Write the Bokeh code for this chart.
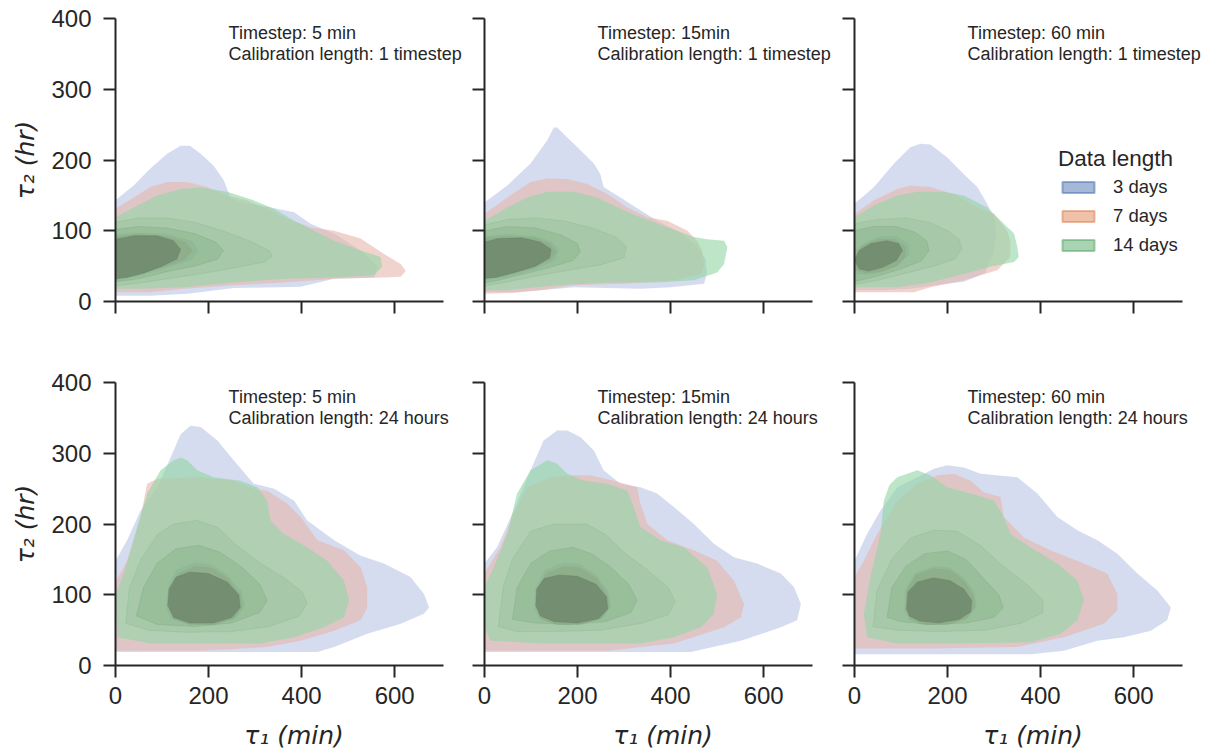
from bokeh.plotting import figure
from bokeh.layouts import gridplot
from bokeh.models import ColumnDataSource, Label, Legend, LegendItem
from bokeh.embed import file_html
from bokeh.resources import INLINE

# ---------------------------------------------------------------------------
# Data: KDE density contours of (tau1 [min], tau2 [hr]) per data length.
# Each list holds contour polygons, outermost level first, as (tau1, tau2).
# ---------------------------------------------------------------------------
SERIES = ["3 days", "7 days", "14 days"]
TIMESTEPS = ["5 min", "15min", "60 min"]
CALIBRATIONS = ["1 timestep", "24 hours"]
X_TICKS = [0, 200, 400, 600]
Y_TICKS = [0, 100, 200, 300, 400]

# calibration length: 1 timestep, timestep 5 min
c1_t5_d3 = [
    [(0, 8), (0, 143), (39, 164), (75, 188), (111, 209), (140, 220), (160, 220), (183, 209), (211, 192),
     (233, 171), (247, 147), (269, 140), (326, 134), (384, 126), (419, 110), (470, 96), (527, 72),
     (563, 49), (556, 34), (470, 32), (398, 21), (254, 19), (154, 11), (75, 8)],
    [(0, 30), (0, 95), (50, 97), (110, 95), (165, 85), (178, 72), (160, 58), (110, 48), (50, 36)],
]
c1_t5_d7 = [
    [(0, 13), (0, 131), (39, 147), (75, 162), (111, 169), (154, 169), (197, 162), (240, 150), (283, 143),
     (326, 131), (369, 117), (419, 105), (470, 100), (527, 89), (577, 67), (613, 53), (624, 43), (613, 35),
     (577, 34), (470, 32), (362, 27), (254, 23), (147, 18), (75, 13)],
    [(0, 32), (0, 92), (50, 95), (110, 92), (150, 84), (165, 72), (150, 60), (100, 48), (45, 38)],
]
c1_t5_d14 = [
    [(0, 18), (0, 119), (39, 133), (90, 150), (140, 159), (183, 161), (240, 155), (297, 143), (341, 131),
     (384, 114), (427, 100), (470, 86), (527, 72), (570, 63), (573, 49), (556, 37), (470, 34), (362, 32),
     (254, 27), (147, 20), (60, 18)],
    [(0, 22), (0, 112), (50, 118), (110, 118), (170, 112), (230, 100), (290, 85), (330, 72), (337, 64),
     (320, 56), (260, 48), (190, 40), (120, 33), (60, 27)],
    [(0, 28), (0, 102), (50, 106), (110, 104), (170, 96), (215, 84), (232, 72), (220, 60), (170, 50),
     (110, 42), (50, 32)],
    [(0, 32), (0, 88), (40, 93), (90, 93), (125, 86), (140, 74), (132, 60), (100, 50), (60, 40), (25, 34)],
]

# calibration length: 1 timestep, timestep 15 min
c1_t15_d3 = [
    [(0, 13), (0, 140), (49, 164), (99, 195), (135, 228), (149, 246), (156, 246), (192, 223), (235, 195),
     (249, 180), (256, 162), (292, 147), (335, 129), (371, 114), (420, 98), (455, 80), (475, 60), (478, 40),
     (472, 25), (400, 20), (335, 18), (192, 20), (120, 16), (60, 13)],
    [(0, 30), (0, 92), (50, 95), (110, 92), (145, 84), (160, 72), (150, 58), (110, 46), (50, 35)],
]
c1_t15_d7 = [
    [(0, 11), (0, 124), (49, 147), (99, 169), (135, 174), (178, 173), (221, 166), (264, 152), (307, 133),
     (350, 119), (393, 114), (436, 100), (457, 86), (468, 72), (472, 53), (465, 39), (407, 30), (300, 25),
     (192, 23), (120, 16), (60, 12)],
    [(0, 32), (0, 90), (50, 92), (110, 90), (140, 82), (155, 70), (140, 58), (100, 47), (45, 37)],
]
c1_t15_d14 = [
    [(0, 16), (0, 114), (49, 133), (92, 147), (135, 155), (192, 155), (242, 147), (292, 131), (335, 119),
     (393, 105), (450, 91), (479, 88), (515, 86), (522, 77), (515, 53), (500, 41), (450, 30), (371, 27),
     (264, 27), (156, 23), (49, 16)],
    [(0, 22), (0, 108), (50, 116), (110, 118), (170, 114), (230, 104), (280, 92), (305, 78), (300, 62),
     (250, 52), (180, 44), (110, 36), (50, 28)],
    [(0, 26), (0, 100), (50, 106), (110, 104), (165, 94), (200, 82), (206, 70), (190, 58), (140, 48),
     (80, 38), (30, 30)],
    [(0, 33), (0, 84), (30, 89), (80, 90), (120, 84), (143, 74), (140, 62), (110, 50), (60, 40), (25, 34)],
]

# calibration length: 1 timestep, timestep 60 min
c1_t60_d3 = [
    [(0, 16), (0, 138), (42, 162), (85, 195), (120, 218), (142, 223), (163, 222), (199, 204), (235, 180),
     (264, 162), (285, 138), (300, 119), (305, 96), (298, 67), (280, 40), (235, 28), (199, 25), (120, 18),
     (60, 16)],
    [(0, 40), (0, 70), (20, 82), (55, 92), (90, 92), (115, 82), (118, 68), (95, 52), (60, 42), (25, 38)],
]
c1_t60_d7 = [
    [(0, 13), (0, 124), (42, 143), (92, 159), (120, 164), (163, 162), (221, 150), (264, 133), (300, 124),
     (328, 100), (335, 86), (335, 63), (307, 44), (235, 30), (163, 20), (128, 13), (60, 13)],
    [(5, 44), (0, 62), (15, 78), (50, 88), (85, 88), (108, 78), (110, 64), (90, 50), (55, 42), (25, 40)],
]
c1_t60_d14 = [
    [(0, 20), (0, 119), (42, 136), (92, 150), (135, 155), (192, 155), (235, 150), (285, 133), (321, 110),
     (343, 96), (350, 77), (353, 63), (343, 56), (292, 49), (235, 39), (163, 27), (92, 20)],
    [(0, 24), (0, 110), (50, 116), (110, 118), (160, 112), (200, 100), (225, 88), (231, 74), (215, 60),
     (170, 50), (110, 40), (50, 30)],
    [(0, 28), (0, 100), (40, 106), (90, 106), (130, 98), (155, 86), (160, 72), (145, 58), (100, 46), (50, 36)],
    [(10, 46), (0, 58), (10, 72), (35, 82), (70, 86), (95, 82), (103, 72), (90, 58), (60, 48), (30, 43)],
]

# calibration length: 24 hours, timestep 5 min
c24_t5_d3 = [
    [(0, 19), (0, 148), (25, 177), (54, 219), (90, 252), (125, 304), (140, 327), (161, 339), (183, 337),
     (219, 318), (254, 290), (297, 257), (341, 250), (384, 233), (412, 205), (470, 177), (527, 155),
     (577, 144), (634, 125), (663, 101), (674, 82), (663, 73), (613, 59), (541, 45), (470, 26), (434, 19),
     (183, 19)],
    [(110, 80), (113, 110), (130, 135), (170, 145), (205, 143), (240, 128), (270, 105), (278, 85),
     (260, 68), (215, 58), (160, 58), (120, 66)],
]
c24_t5_d7 = [
    [(0, 21), (0, 118), (25, 148), (54, 210), (68, 257), (90, 264), (183, 266), (254, 261), (297, 250),
     (326, 247), (369, 229), (398, 210), (434, 177), (491, 163), (527, 139), (541, 111), (541, 82),
     (527, 64), (470, 49), (398, 35), (326, 26), (183, 21)],
    [(115, 82), (118, 108), (135, 130), (170, 140), (205, 138), (240, 124), (268, 100), (272, 82),
     (255, 66), (210, 58), (160, 58), (125, 66)],
]
c24_t5_d14 = [
    [(4, 40), (0, 100), (18, 130), (47, 196), (68, 243), (97, 276), (125, 290), (140, 294), (154, 290),
     (176, 276), (211, 266), (269, 261), (305, 252), (326, 233), (333, 205), (362, 186), (412, 167),
     (455, 148), (491, 120), (502, 92), (491, 68), (448, 54), (384, 40), (312, 31), (183, 31), (75, 31)],
    [(22, 60), (30, 110), (55, 150), (90, 185), (125, 200), (175, 205), (220, 195), (260, 170), (310, 145),
     (360, 125), (400, 105), (412, 88), (395, 70), (330, 55), (250, 48), (150, 47), (70, 50)],
    [(45, 70), (60, 110), (90, 145), (130, 165), (180, 170), (225, 160), (270, 140), (310, 115), (326, 92),
     (310, 75), (250, 60), (170, 55), (90, 58)],
    [(112, 85), (115, 108), (130, 125), (160, 132), (200, 130), (240, 118), (265, 100), (268, 82),
     (250, 68), (210, 60), (160, 60), (125, 68)],
]

# calibration length: 24 hours, timestep 15 min
c24_t15_d3 = [
    [(0, 19), (0, 144), (27, 167), (63, 219), (99, 276), (127, 318), (156, 332), (178, 332), (206, 323),
     (235, 304), (256, 276), (292, 257), (335, 252), (371, 243), (407, 224), (450, 200), (493, 172),
     (536, 153), (586, 144), (637, 130), (665, 111), (680, 87), (672, 64), (637, 54), (551, 35), (443, 19),
     (192, 19)],
    [(108, 80), (110, 110), (130, 135), (170, 145), (205, 143), (240, 128), (265, 105), (272, 85),
     (255, 68), (210, 58), (155, 58), (118, 66)],
]
c24_t15_d7 = [
    [(0, 21), (0, 130), (34, 167), (63, 214), (92, 252), (142, 266), (192, 269), (228, 269), (278, 261),
     (328, 252), (335, 229), (350, 200), (393, 177), (450, 163), (500, 148), (536, 120), (558, 87),
     (551, 68), (515, 54), (407, 31), (264, 21)],
    [(112, 82), (114, 108), (132, 130), (170, 140), (205, 138), (240, 124), (264, 100), (268, 82),
     (250, 66), (205, 58), (155, 58), (122, 66)],
]
c24_t15_d14 = [
    [(0, 54), (0, 111), (20, 139), (49, 186), (70, 243), (99, 276), (135, 290), (156, 285), (178, 271),
     (214, 261), (264, 257), (307, 247), (321, 224), (335, 196), (378, 177), (428, 167), (479, 139),
     (500, 101), (493, 73), (465, 54), (407, 40), (335, 31), (120, 31), (13, 35)],
    [(30, 55), (40, 110), (60, 150), (100, 190), (150, 200), (220, 200), (260, 185), (300, 160), (350, 135),
     (395, 110), (410, 90), (395, 72), (340, 60), (250, 50), (150, 48), (70, 48)],
    [(60, 65), (70, 110), (100, 145), (140, 162), (190, 167), (230, 158), (270, 140), (310, 115), (328, 92),
     (315, 75), (260, 62), (180, 58), (110, 60)],
    [(110, 85), (112, 108), (128, 123), (160, 128), (200, 126), (240, 115), (262, 97), (265, 80),
     (245, 66), (200, 60), (150, 62), (120, 70)],
]

# calibration length: 24 hours, timestep 60 min
c24_t60_d3 = [
    [(0, 16), (0, 148), (27, 186), (56, 219), (92, 252), (135, 266), (171, 278), (199, 283), (235, 280),
     (271, 271), (350, 266), (393, 243), (436, 210), (479, 191), (522, 177), (565, 158), (608, 130),
     (651, 106), (680, 82), (672, 64), (637, 49), (579, 40), (522, 35), (450, 21), (379, 16), (163, 16)],
    [(108, 78), (110, 108), (130, 130), (170, 140), (205, 138), (235, 124), (258, 104), (262, 84),
     (245, 68), (200, 58), (150, 58), (118, 64)],
]
c24_t60_d7 = [
    [(0, 24), (0, 125), (20, 148), (49, 186), (92, 233), (135, 257), (178, 269), (214, 271), (250, 261),
     (278, 245), (314, 238), (321, 210), (364, 181), (421, 163), (493, 144), (543, 130), (565, 101),
     (565, 78), (536, 59), (450, 40), (350, 26), (163, 24)],
    [(110, 80), (112, 106), (132, 128), (170, 137), (205, 135), (235, 120), (255, 100), (258, 82),
     (240, 66), (200, 58), (150, 58), (120, 66)],
]
c24_t60_d14 = [
    [(27, 40), (20, 73), (34, 125), (56, 186), (63, 233), (75, 255), (92, 266), (135, 276), (163, 269),
     (199, 252), (250, 243), (300, 233), (321, 210), (335, 186), (378, 167), (436, 144), (479, 120),
     (493, 92), (479, 64), (443, 45), (379, 33), (235, 31), (92, 31)],
    [(40, 55), (48, 105), (80, 150), (120, 180), (170, 191), (220, 190), (270, 170), (320, 140), (370, 115),
     (405, 92), (405, 75), (360, 60), (280, 50), (180, 48), (90, 50)],
    [(70, 68), (80, 110), (110, 140), (150, 158), (200, 162), (240, 150), (275, 125), (310, 100), (320, 82),
     (300, 68), (240, 60), (160, 58), (100, 62)],
    [(112, 80), (115, 104), (135, 118), (170, 124), (205, 120), (235, 108), (252, 92), (250, 76),
     (225, 65), (180, 60), (140, 63), (118, 70)],
]

PANELS = [
    [(c1_t5_d3, c1_t5_d7, c1_t5_d14), (c1_t15_d3, c1_t15_d7, c1_t15_d14), (c1_t60_d3, c1_t60_d7, c1_t60_d14)],
    [(c24_t5_d3, c24_t5_d7, c24_t5_d14), (c24_t15_d3, c24_t15_d7, c24_t15_d14),
     (c24_t60_d3, c24_t60_d7, c24_t60_d14)],
]

# ---------------------------------------------------------------------------
# Styling
# ---------------------------------------------------------------------------
INK = "#262626"
TICK_FONT = "Liberation Sans"
MATH_FONT = "DejaVu Sans"
PALETTE = ["#4c72b0", "#dd8452", "#55a868"]

# fill colour / alpha per contour level (outer -> core) for each series
LEVEL_STYLES = [
    [("#abb9df", 0.5), ("#3a5a9a", 0.45)],
    [("#e7b6ab", 0.6), ("#a05a50", 0.45)],
    [("#91d5a3", 0.6), ("#78b482", 0.18), ("#6ea06e", 0.25), ("#5a6e5a", 0.5)],
]

X_AXIS_END = 705                # visible extent of the tau1 axis
PX_PER_UNIT = 328 / X_AXIS_END  # horizontal scale shared by every panel
FRAME_W = [357, 357, 357]
FRAME_H = 283
BORDER_L = [115, 12, 13]
BORDER_R = [0, 0, 14]
BORDER_T = [18, 17]
BORDER_B = [64, 91]


def draw_series(p, polys, styles):
    src = ColumnDataSource(dict(
        xs=[[v[0] for v in poly] for poly in polys],
        ys=[[v[1] for v in poly] for poly in polys],
        fc=[styles[i][0] for i in range(len(polys))],
        fa=[styles[i][1] for i in range(len(polys))],
        la=[0.0] + [0.25] * (len(polys) - 1),
    ))
    p.patches("xs", "ys", source=src, fill_color="fc", fill_alpha="fa",
              line_color="fc", line_alpha="la", line_width=1)


def make_panel(r, c):
    p = figure(frame_width=FRAME_W[c], frame_height=FRAME_H,
               x_range=(0, FRAME_W[c] / PX_PER_UNIT), y_range=(0, 400),
               output_backend="svg", toolbar_location=None,
               min_border_left=BORDER_L[c], min_border_right=BORDER_R[c],
               min_border_top=BORDER_T[r], min_border_bottom=BORDER_B[r])
    p.grid.visible = False
    p.outline_line_color = None
    p.background_fill_color = "white"
    p.border_fill_color = "white"

    for polys, styles in zip(PANELS[r][c], LEVEL_STYLES):
        draw_series(p, polys, styles)

    p.xaxis.ticker = X_TICKS
    p.yaxis.ticker = Y_TICKS
    p.xaxis.bounds = (0, X_AXIS_END)
    for ax in (p.xaxis[0], p.yaxis[0]):
        ax.axis_line_color = INK
        ax.axis_line_width = 2
        ax.major_tick_line_color = INK
        ax.major_tick_line_width = 2
        ax.major_tick_in = 0
        ax.major_tick_out = 12
        ax.minor_tick_in = 0
        ax.minor_tick_out = 0
        ax.major_label_text_font = TICK_FONT
        ax.major_label_text_font_size = "24px"
        ax.major_label_text_color = INK
        ax.axis_label_text_font = MATH_FONT
        ax.axis_label_text_font_size = "25px"
        ax.axis_label_text_font_style = "italic"
        ax.axis_label_text_color = INK
    p.xaxis.major_label_standoff = 9
    p.yaxis.major_label_standoff = 12
    p.xaxis.axis_label_standoff = 14
    p.yaxis.axis_label_standoff = 8

    if c == 0:
        p.yaxis.axis_label = "τ₂ (hr)"
    else:
        p.yaxis.major_label_overrides = {t: "" for t in Y_TICKS}
    if r == 1:
        p.xaxis.axis_label = "τ₁ (min)"
    else:
        p.xaxis.major_label_overrides = {t: "" for t in X_TICKS}

    for yv, txt in ((380, "Timestep: " + TIMESTEPS[c]),
                    (350, "Calibration length: " + CALIBRATIONS[r])):
        p.add_layout(Label(x=243, y=yv, text=txt, text_font=TICK_FONT,
                           text_font_size="18px", text_color=INK,
                           text_baseline="alphabetic", text_align="left"))
    return p


grid = [[make_panel(r, c) for c in range(3)] for r in range(2)]

# legend for the data lengths on the upper-right panel (swatch-only renderers)
legend_panel = grid[0][2]
nan = float("nan")
items = []
for name, col in zip(SERIES, PALETTE):
    rend = legend_panel.quad(left=[nan], right=[nan], top=[nan], bottom=[nan],
                             fill_color=col, fill_alpha=0.5,
                             line_color=col, line_alpha=0.55, line_width=2)
    items.append(LegendItem(label=name, renderers=[rend]))
legend = Legend(items=items, location=(204, 45), title="Data length",
                title_text_font=TICK_FONT, title_text_font_size="22.5px",
                title_text_color=INK, title_text_font_style="normal",
                title_standoff=4,
                label_text_font=TICK_FONT, label_text_font_size="18.5px",
                label_text_color=INK, label_standoff=15,
                glyph_width=40, glyph_height=14, label_height=20, spacing=7,
                padding=0, margin=0, border_line_color=None,
                background_fill_alpha=0)
legend_panel.add_layout(legend)

layout = gridplot(grid, toolbar_location=None)

open("out.html", "w").write(file_html(layout, INLINE))
